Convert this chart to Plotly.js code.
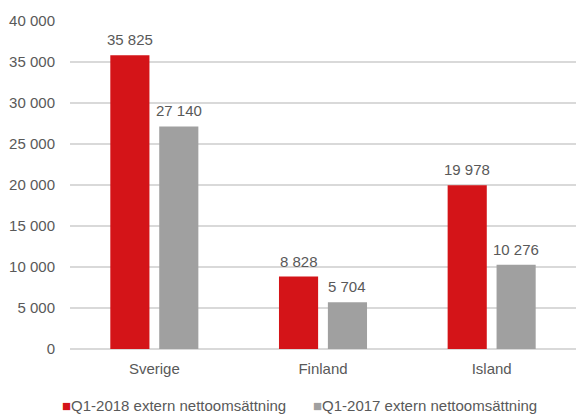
<!DOCTYPE html>
<html><head><meta charset="utf-8">
<script src="https://cdn.plot.ly/plotly-3.0.1.min.js"></script>
<style>html,body{margin:0;padding:0;background:#fff}#c{width:576px;height:414px}</style>
</head><body><div id="c"></div>
<script>
const categories = ["Sverige", "Finland", "Island"];
const q12018 = [35825, 8828, 19978];
const q12017 = [27140, 5704, 10276];
const seriesNames = ["Q1-2018 extern nettoomsättning", "Q1-2017 extern nettoomsättning"];
const seriesColors = ["#D41418", "#A0A0A0"];
const tickVals = [0, 5000, 10000, 15000, 20000, 25000, 30000, 35000, 40000];

const bargap = 0.42;
const fmt = v => String(v).replace(/\B(?=(\d{3})+(?!\d))/g, " ");
const font = {family: "Liberation Sans, Arial, sans-serif", size: 15, color: "#595959"};

const traces = [
  {type: "bar", name: seriesNames[0], x: categories, y: q12018, marker: {color: seriesColors[0]}, hoverinfo: "none"},
  {type: "bar", name: seriesNames[1], x: categories, y: q12017, marker: {color: seriesColors[1]}, hoverinfo: "none"}
];

const slot = (1 - bargap) / 2;
const annotations = [];
[q12018, q12017].forEach((arr, s) => {
  arr.forEach((v, i) => {
    annotations.push({
      x: i + (s === 0 ? -slot / 2 : slot / 2), y: v, xref: "x", yref: "y",
      text: fmt(v), showarrow: false, yanchor: "bottom", yshift: 5, font: font
    });
  });
});

// legend drawn as text entries below the plot
const legendX = [(60 - 70) / 506, (311 - 70) / 506];
seriesNames.forEach((n, s) => {
  annotations.push({
    x: legendX[s], y: (349 - 405) / 328, xref: "paper", yref: "paper", xanchor: "left", yanchor: "middle",
    text: '<span style="color:' + seriesColors[s] + '">■</span>' + n, showarrow: false, font: font
  });
});

const layout = {
  width: 576, height: 414,
  margin: {l: 70, r: 0, t: 21, b: 65},
  paper_bgcolor: "#fff", plot_bgcolor: "#fff",
  font: font,
  separators: ", ",
  barmode: "group", bargap: bargap, bargroupgap: 0.2,
  showlegend: false,
  xaxis: {type: "category", showgrid: false, zeroline: false, showline: false, ticks: "", tickfont: font, ticklabelstandoff: 9},
  yaxis: {range: [0, 40000], tickvals: tickVals, ticktext: tickVals.map(fmt), showgrid: true, gridcolor: "#D9D9D9", gridwidth: 1.5,
    zeroline: true, zerolinecolor: "#D9D9D9", zerolinewidth: 1.5, showline: false, ticks: "", tickfont: font, ticklabelstandoff: 14},
  annotations: annotations
};

Plotly.newPlot("c", traces, layout, {displayModeBar: false, staticPlot: true});
</script>
</body></html>
